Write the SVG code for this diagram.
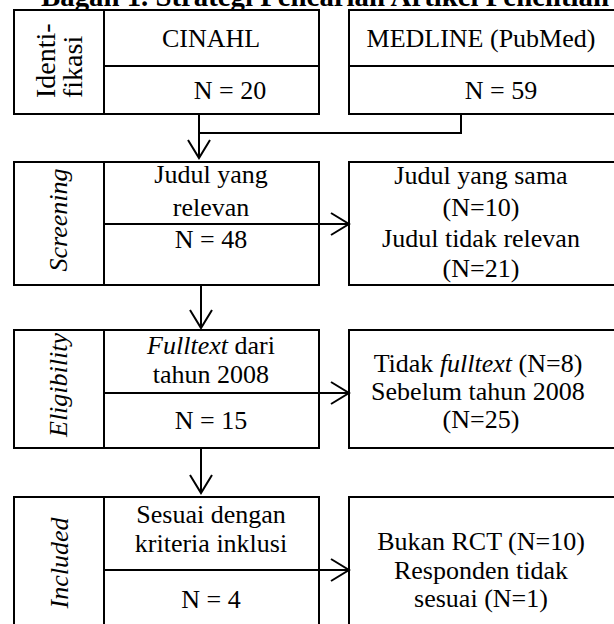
<svg xmlns="http://www.w3.org/2000/svg" width="614" height="624" viewBox="0 0 614 624">
<style>
.b{fill:#fff;stroke:#000;stroke-width:2}
.l{fill:none;stroke:#000;stroke-width:2}
text{font-family:"Liberation Serif","Times New Roman",serif;font-size:26px;fill:#000}
.c{text-anchor:middle}
.i{font-style:italic}
.t{font-weight:bold;font-size:28.8px;text-anchor:middle}
.lab{font-size:28px}
</style>
<defs>
<marker id="ah" markerUnits="userSpaceOnUse" markerWidth="24" markerHeight="28" viewBox="-20 -14 24 28" refX="0" refY="0" orient="auto">
<path d="M-18,-11 L0,0 L-18,11" fill="none" stroke="#000" stroke-width="2"/>
</marker>
</defs>
<rect width="614" height="624" fill="#fff"/>
<text class="t" x="325" y="6">Bagan 1. Strategi Pencarian Artikel Penelitian</text>

<g id="identifikasi">
<rect class="b" x="14" y="10" width="90" height="104"/>
<text class="lab" transform="translate(55,98) rotate(-90)"><tspan x="0" y="0">Identi-</tspan><tspan x="0" y="27">fikasi</tspan></text>
</g>
<g id="cinahl">
<rect class="b" x="104" y="10" width="215" height="104"/>
<line class="l" x1="104" y1="66" x2="319" y2="66"/>
<text class="c" x="211" y="47">CINAHL</text>
<text class="c" x="230" y="99">N = 20</text>
</g>
<g id="medline">
<rect class="b" x="349" y="10" width="270" height="104"/>
<line class="l" x1="349" y1="66" x2="619" y2="66"/>
<text class="c" x="481" y="47">MEDLINE (PubMed)</text>
<text class="c" x="501" y="99">N = 59</text>
</g>

<g id="screening">
<rect class="b" x="14" y="162" width="90" height="123"/>
<text class="c i" transform="translate(67,220) rotate(-90)">Screening</text>
</g>
<g id="judul">
<rect class="b" x="104" y="162" width="215" height="123"/>
<text class="c" x="211" y="183">Judul yang</text>
<text class="c" x="211" y="216">relevan</text>
<text class="c" x="211" y="248">N = 48</text>
</g>
<g id="excl-screening">
<rect class="b" x="349" y="162" width="270" height="123"/>
<text class="c" x="481" y="184">Judul yang sama</text>
<text class="c" x="481" y="216">(N=10)</text>
<text class="c" x="481" y="247">Judul tidak relevan</text>
<text class="c" x="481" y="277">(N=21)</text>
</g>

<g id="eligibility">
<rect class="b" x="14" y="330" width="90" height="118"/>
<text class="c i" transform="translate(67,385) rotate(-90)">Eligibility</text>
</g>
<g id="fulltext">
<rect class="b" x="104" y="330" width="215" height="118"/>
<text class="c" x="211" y="354"><tspan class="i">Fulltext</tspan> dari</text>
<text class="c" x="211" y="383">tahun 2008</text>
<text class="c" x="211" y="429">N = 15</text>
</g>
<g id="excl-eligibility">
<rect class="b" x="349" y="330" width="270" height="118"/>
<text class="c" x="478" y="372">Tidak <tspan class="i">fulltext</tspan> (N=8)</text>
<text class="c" x="478" y="400">Sebelum tahun 2008</text>
<text class="c" x="481" y="428">(N=25)</text>
</g>

<g id="included">
<rect class="b" x="14" y="497" width="90" height="140"/>
<text class="c i" transform="translate(68,563) rotate(-90)">Included</text>
</g>
<g id="sesuai">
<rect class="b" x="104" y="497" width="215" height="140"/>
<text class="c" x="211" y="523">Sesuai dengan</text>
<text class="c" x="211" y="552">kriteria inklusi</text>
<text class="c" x="211" y="608">N = 4</text>
</g>
<g id="excl-included">
<rect class="b" x="349" y="497" width="270" height="140"/>
<text class="c" x="481" y="550">Bukan RCT (N=10)</text>
<text class="c" x="481" y="579">Responden tidak</text>
<text class="c" x="481" y="607">sesuai (N=1)</text>
</g>

<g id="connectors">
<polyline class="l" points="461,114 461,133 199,133"/>
<line class="l" x1="199" y1="114" x2="199" y2="158" marker-end="url(#ah)"/>
<line class="l" x1="104" y1="224" x2="349" y2="224" marker-end="url(#ah)"/>
<line class="l" x1="201" y1="285" x2="201" y2="328" marker-end="url(#ah)"/>
<line class="l" x1="104" y1="393" x2="349" y2="393" marker-end="url(#ah)"/>
<line class="l" x1="201" y1="448" x2="201" y2="493" marker-end="url(#ah)"/>
<line class="l" x1="104" y1="570" x2="349" y2="570" marker-end="url(#ah)"/>
</g>
</svg>
